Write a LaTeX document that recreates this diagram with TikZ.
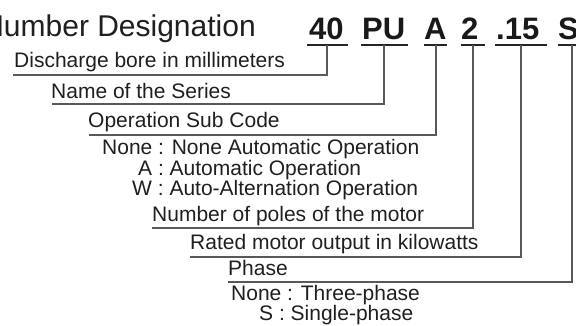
\documentclass[tikz,border=0pt]{standalone}
\usepackage{fontspec}
\setmainfont{Liberation Sans}
\begin{document}
\begin{tikzpicture}[x=1pt,y=-1pt,
  txt/.style={inner sep=0pt, anchor=base west, text=black!88, font=\fontsize{21}{21}\selectfont},
  ttl/.style={inner sep=0pt, anchor=base east, text=black!88, font=\fontsize{30}{30}\selectfont},
  code/.style={inner sep=0pt, anchor=base west, text=black!90, font=\fontsize{31}{31}\selectfont\bfseries},
  uline/.style={draw=black!85, line width=2.2pt},
  conn/.style={draw=black!65, line width=1.2pt}]
\useasboundingbox (0,0) rectangle (576,326);
% title
\node[ttl] (title) at (256,37) {Number Designation};
% codes
\node[code] (c40) at (309,39.5) {40};
\node[code] (cPU) at (362,39.5) {PU};
\node[code] (cA) at (424,39.5) {A};
\node[code] (c2) at (461,39.5) {2};
\node[code] (c15) at (496,39.5) {.15};
\node[code] (cS) at (558,39.5) {S};
\draw[uline] (307,45) -- (348,45);
\draw[uline] (361,45) -- (408,45);
\draw[uline] (424,45) -- (447,45);
\draw[uline] (461,45) -- (485,45);
\draw[uline] (495,45) -- (547,45);
\draw[uline] (558,45) -- (585,45);
% labels
\node[txt] (l1) at (14,68) {Discharge bore in millimeters};
\node[txt] (l2) at (51,99) {Name of the Series};
\node[txt] (l3) at (88,127.5) {Operation Sub Code};
\node[txt] (l3a) at (102,155) {None : None Automatic Operation};
\node[txt] (l3b) at (138,176) {A : Automatic Operation};
\node[txt] (l3c) at (132,196) {W : Auto-Alternation Operation};
\node[txt] (l4) at (152,222) {Number of poles of the motor};
\node[txt] (l5) at (190,249) {Rated motor output in kilowatts};
\node[txt] (l6) at (228,275) {Phase};
\node[txt] (l6a) at (231,300) {None : Three-phase};
\node[txt] (l6b) at (259,320) {S : Single-phase};
% connector points
\coordinate (u40) at (327,45);  \coordinate (e40) at (13,75);
\coordinate (uPU) at (384,45);  \coordinate (ePU) at (52,104);
\coordinate (uA) at (436,45);   \coordinate (eA) at (89,135);
\coordinate (u2) at (473,45);   \coordinate (e2) at (152,228);
\coordinate (u15) at (521,45);  \coordinate (e15) at (190,257);
\coordinate (uS) at (572,45);   \coordinate (eS) at (228,282);
\draw[conn] (u40) |- (e40);
\draw[conn] (uPU) |- (ePU);
\draw[conn] (uA) |- (eA);
\draw[conn] (u2) |- (e2);
\draw[conn] (u15) |- (e15);
\draw[conn] (uS) |- (eS);
\end{tikzpicture}
\end{document}
